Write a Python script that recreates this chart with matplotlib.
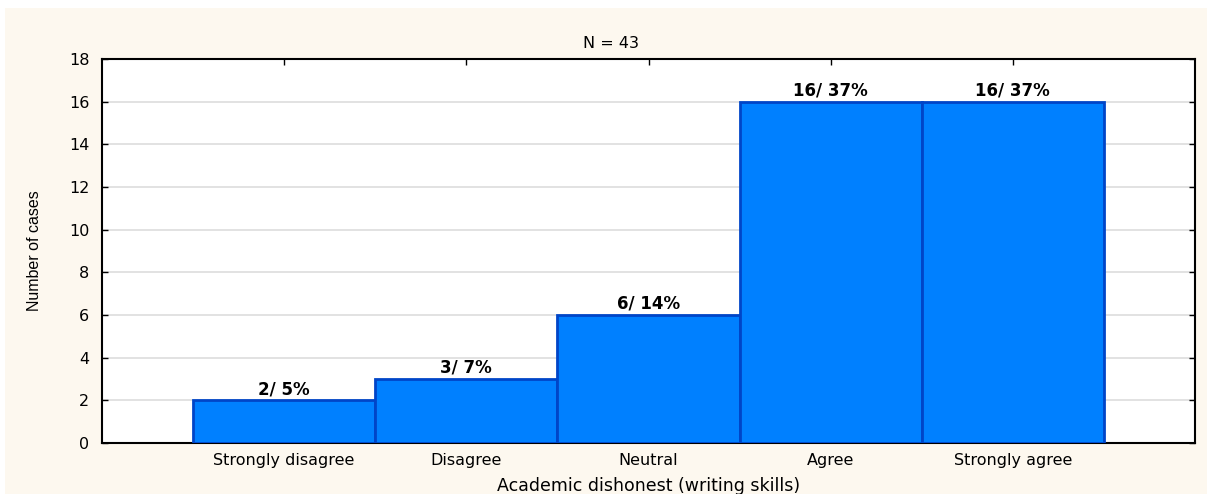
import matplotlib
matplotlib.use("Agg")
import matplotlib.pyplot as plt
from matplotlib.patches import Rectangle

categories = ["Strongly disagree", "Disagree", "Neutral", "Agree", "Strongly agree"]
counts = [2, 3, 6, 16, 16]
pct_labels = ["2/ 5%", "3/ 7%", "6/ 14%", "16/ 37%", "16/ 37%"]
y_ticks = [0, 2, 4, 6, 8, 10, 12, 14, 16, 18]

# the source text is wide (Arial stretched), DejaVu Sans is the closest wide face
plt.rcParams["font.family"] = ["DejaVu Sans"]

fig = plt.figure(figsize=(12.07, 4.94), dpi=100, facecolor="white")
# cream panel behind everything (thin white border top/left)
fig.patches.append(Rectangle((5 / 1207, 0), 1, 1 - 8 / 494,
                             transform=fig.transFigure, facecolor="#fdf8ef",
                             edgecolor="none", zorder=-10))

ax = fig.add_axes([102 / 1207, 1 - 443 / 494, 1093 / 1207, 384 / 494])
ax.set_facecolor("white")

x = list(range(1, len(categories) + 1))
ax.bar(x, counts, width=1.0, color="#0080ff", edgecolor="#0045c8",
       linewidth=2, zorder=3)
for xi, c, lab in zip(x, counts, pct_labels):
    ax.text(xi, c + 0.1, lab, ha="center", va="bottom", fontsize=12,
            fontweight="bold", zorder=4)

ax.set_xlim(0, 6)
ax.set_ylim(0, 18)
ax.set_xticks(x)
ax.set_xticklabels(categories, fontsize=11.5)
ax.set_yticks(y_ticks)
ax.set_yticklabels([str(v) for v in y_ticks], fontsize=11.5)
ax.tick_params(direction="in", top=True, right=True, length=4, width=1,
               pad=9)
ax.tick_params(axis="x", pad=7)
ax.yaxis.grid(True, color="#dddddd", linewidth=1.2, zorder=0)
ax.set_axisbelow(True)
for s in ax.spines.values():
    s.set_linewidth(1.5)
    s.set_color("black")

ax.set_title("N = 43", fontsize=11.5, pad=8, x=(611 - 102) / 1093)
ax.set_xlabel("Academic dishonest (writing skills)", fontsize=12.5, labelpad=7)
ax.set_ylabel("Number of cases", fontsize=11.5,
              family=["Liberation Sans Narrow", "Liberation Sans"])
ax.yaxis.set_label_coords((42 - 102) / 1093, 0.5)

fig.savefig("out.png", dpi=100, facecolor=fig.get_facecolor())
